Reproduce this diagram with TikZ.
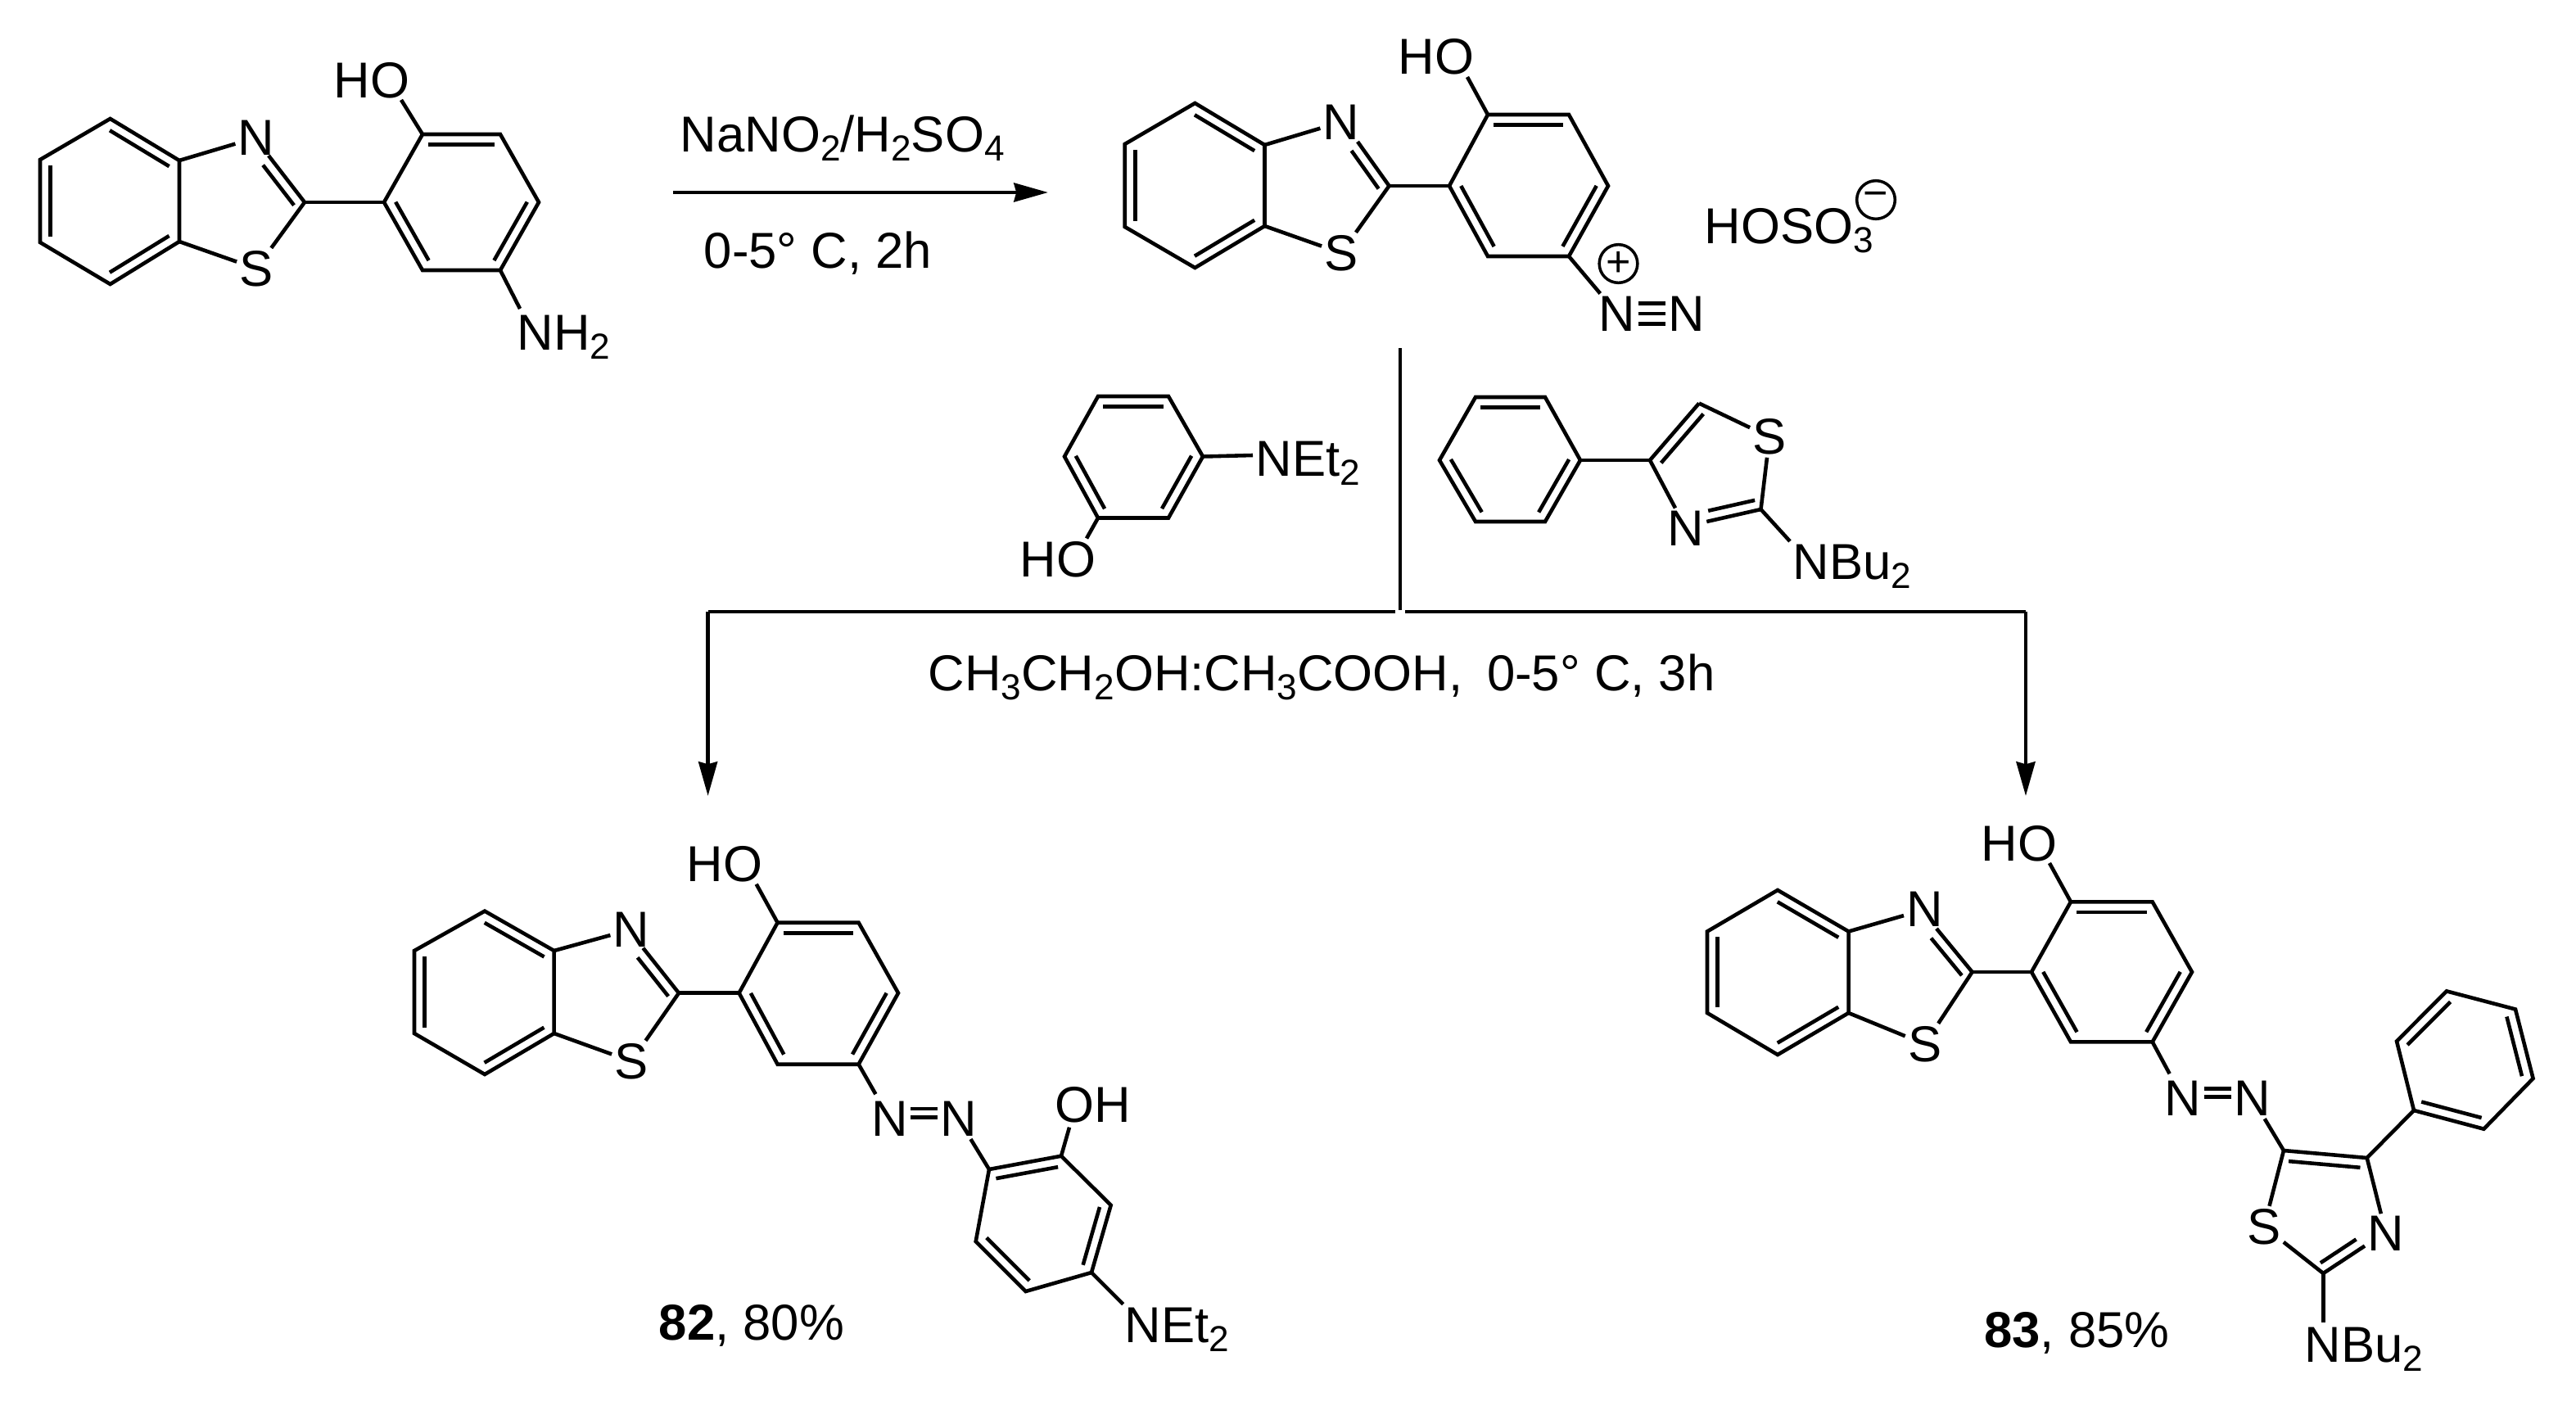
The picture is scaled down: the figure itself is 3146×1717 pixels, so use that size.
\documentclass[tikz,border=0pt]{standalone}
\usepackage{fontspec}
\setmainfont{Liberation Sans}
\usetikzlibrary{calc}
\usetikzlibrary{arrows.meta}
\newcommand{\low}[1]{\raisebox{-2.8pt}{\fontsize{10.6}{12}\selectfont #1}}
\newcommand{\dbl}[2]{\draw[bond] ($(#1)!0.07!(#2)!3pt!-90:(#2)$) -- ($(#2)!0.07!(#1)!3pt!90:(#1)$);}

\begin{document}
\begin{tikzpicture}[x=0.24pt,y=-0.24pt]
	\tikzstyle{atom}=[inner sep=0.6pt,font=\fontsize{14.8}{17}\selectfont]
	\tikzstyle{lab}=[anchor=base west,inner sep=0pt,font=\fontsize{14.8}{17}\selectfont]
	\tikzstyle{bond}=[draw=black,line width=1.1pt]
	\tikzstyle{rxn}=[draw=black,line width=1.1pt,-{Stealth[length=10pt,width=5.5pt,inset=0.7pt]}]
	\tikzstyle{charge}=[circle,draw=black,line width=0.85pt,inner sep=0pt,minimum size=11.2pt,font=\fontsize{12.5}{12.5}\selectfont]

	\useasboundingbox (0,0) rectangle (3146,1717);

	% ring atoms and free bond ends
	\foreach \n/\x/\y in {A1/134.6/145,A2/219/196,A3/219/295,A4/134.6/347,A5/49/296,A6/49/195,A7/372/247,
		A8/469/247,A9/516/164,A10/611/164,A11/658/247,A12/611/330,A13/516/330,An/328/190,Ae/490/122,Af/635/377,
		B1/1459.4/126,B2/1544.5/177,B3/1544.5/276,B4/1459.4/327,B5/1373.7/277,B6/1373.7/176,B7/1696.5/227,
		B8/1770/227,B9/1817/140,B10/1916/140,B11/1964/227,B12/1916/313,B13/1817/313,Bn/1658/173,Be/1792/94,
		C1/592/1112.6,C2/676.7/1161,C3/676.7/1262,C4/592/1312,C5/506/1262,C6/506/1161,C7/829/1212.7,
		C8/902.6/1212.7,C9/949.6/1126.7,C10/1048.6/1126.7,C11/1097/1212.7,C12/1048.6/1299.7,C13/949.6/1299.7,Cn/785.4/1157.7,Ce/923.7/1079.7,
		D1/2171/1087,D2/2257.6/1137.5,D3/2257.6/1237,D4/2171/1288,D5/2085/1237,D6/2085/1137.5,D7/2408.6/1187,
		D8/2481/1187,D9/2529/1101.3,D10/2628.7/1101.3,D11/2677/1187,D12/2628.7/1272.4,D13/2529/1272.4,Dn/2365/1134,De/2503/1054,
		E1/1341/484,E2/1427/484,E3/1469/557.5,E4/1427/632.5,E5/1341/632.5,E6/1300/557.5,Ea/1530/556,Eb/1327/657.5,
		F1/1802/485,F2/1887/485,F3/1930/562,F4/1887/637,F5/1802/637,F6/1758/562,
		T1/2015/562,T2/2075/492.5,T3/2150.5/622,Tn/2084.3/637,Ta/2186/661,
		G1/1208/1428,G2/1296/1411.7,G3/1356.7/1471.7,G4/1333/1554,G5/1252.7/1577,G6/1191.7/1516,Ga/1306/1376.7,Gb/1371.7/1592.7,
		H1/2789/1405,H2/2890.7/1414,H3/2837.3/1555,Hn/2888/1521.5,Ha/2837.3/1615,
		P1/2948/1356,P2/2927/1271.5,P3/2988/1210.4,P4/3072/1232.5,P5/3093.6/1317,P6/3033.4/1378.7}
		{\coordinate (\n) at (\x,\y);}

	% atom labels
	\foreach \n/\t/\x/\y in {AN/N/313/168,AS/S/313/328,AO/HO/454/98,
		BN/N/1638/149,BS/S/1638/309,BO/HO/1754/69,BP/N/1975/383,BQ/N/2060/383,
		CN/N/771/1135,CS/S/771/1296,CO/HO/885/1055,CP/N/1086.7/1366.5,CQ/N/1170.5/1366.5,CH/OH/1334.3/1349,
		DN/N/2350.6/1110.7,DS/S/2350.6/1275,DO/HO/2466/1030,DP/N/2666/1341.7,DQ/N/2751/1341.7,
		EO/HO/1292/683,TS/S/2161/533.6,TN/N/2059/645,HS/S/2765/1498,HN/N/2914/1506.7}
		{\node [atom] (\n) at (\x,\y) {\t};}

	\node [lab] (nh2) at (631,427) {NH\low{2}};
	\node [lab] (hso4) at (2081,297) {HOSO\low{3}};
	\node [lab] (net2a) at (1533,581) {NEt\low{2}};
	\node [lab] (nbu2a) at (2189,707) {NBu\low{2}};
	\node [lab] (net2b) at (1373,1639) {NEt\low{2}};
	\node [lab] (nbu2b) at (2814,1663) {NBu\low{2}};
	\node [lab] (cond1) at (830,185) {NaNO\low{2}/H\low{2}SO\low{4}};
	\node [lab] (cond2) at (859,327) {0-5° C, 2h};
	\node [lab] (cond3) at (1133,843) {CH\low{3}CH\low{2}OH:CH\low{3}COOH,\hspace{3pt} 0-5° C, 3h};
	\node [lab] (yield82) at (804,1636) {\textbf{82}, 80\%};
	\node [lab] (yield83) at (2422.5,1645) {\textbf{83}, 85\%};
	\node [charge] (plus) at (1976.5,322) {+};
	\node [charge] (minus) at (2291,244) {−};

	% the four benzothiazole phenols
	\foreach \m in {A,B,C,D} {
		\draw[bond] (\m1) -- (\m2) -- (\m3) -- (\m4) -- (\m5) -- (\m6) -- cycle;
		\draw[bond] (\m8) -- (\m9) -- (\m10) -- (\m11) -- (\m12) -- (\m13) -- cycle;
		\path[bond] (\m2) -- (\m N);
		\path[bond] (\m3) -- (\m S);
		\path[bond] (\m S) -- (\m7);
		\path[bond] (\m7) -- (\m n);
		\path[bond] (\m7) -- (\m8);
		\path[bond] (\m9) -- (\m e);
		\foreach \a/\b in {1/2,3/4,5/6,9/10,11/12,13/8,n/7}
			{\dbl{\m\a}{\m\b}}
	}

	% other rings
	\draw[bond] (E1) -- (E2) -- (E3) -- (E4) -- (E5) -- (E6) -- cycle;
	\draw[bond] (F1) -- (F2) -- (F3) -- (F4) -- (F5) -- (F6) -- cycle;
	\draw[bond] (G1) -- (G2) -- (G3) -- (G4) -- (G5) -- (G6) -- cycle;
	\draw[bond] (P1) -- (P2) -- (P3) -- (P4) -- (P5) -- (P6) -- cycle;
	\foreach \a/\b in {E1/E2,E3/E4,E5/E6,F1/F2,F3/F4,F5/F6,G1/G2,G3/G4,G5/G6,P2/P3,P4/P5,P6/P1,T1/T2,T3/Tn,H1/H2,Hn/H3}
		{\dbl{\a}{\b}}

	% single bonds
	\path[bond] (A12) -- (Af);
	\path[bond] (B12) -- (BP);
	\path[bond,shorten >=1.6pt] (C12) -- (CP);
	\path[bond,shorten >=1.6pt] (D12) -- (DP);
	\path[bond] (CQ) -- (G1);
	\path[bond] (DQ) -- (H1);
	\path[bond] (G2) -- (Ga);
	\path[bond] (G4) -- (Gb);
	\path[bond] (E3) -- (Ea);
	\path[bond] (E5) -- (Eb);
	\path[bond] (F3) -- (T1);
	\path[bond] (T1) -- (T2);
	\path[bond] (T1) -- (TN);
	\path[bond] (T2) -- (TS);
	\path[bond] (TS) -- (T3);
	\path[bond] (T3) -- (Tn);
	\path[bond] (T3) -- (Ta);
	\path[bond] (H1) -- (H2);
	\path[bond] (H1) -- (HS);
	\path[bond] (HS) -- (H3);
	\path[bond] (H2) -- (HN);
	\path[bond] (H3) -- (Hn);
	\path[bond] (H3) -- (Ha);
	\path[bond] (H2) -- (P1);

	% azo and diazonium
	\foreach \s in {3pt,0.5pt} {
		\path[bond] ([yshift=\s]CP.east) -- ([yshift=\s]CQ.west);
		\path[bond] ([yshift=\s]DP.east) -- ([yshift=\s]DQ.west);
	}
	\foreach \s in {-3pt,0pt,3pt}
		{\path[bond] ([yshift=\s]BP.east) -- ([yshift=\s]BQ.west);}

	% reaction arrows
	\coordinate (r1) at (822,235);
	\coordinate (r2) at (1280,235);
	\coordinate (v1) at (1710,425);
	\coordinate (v2) at (1710,745);
	\coordinate (h1) at (864.6,747);
	\coordinate (h2) at (1704,747);
	\coordinate (h3) at (1716,747);
	\coordinate (h4) at (2474,747);
	\coordinate (t1) at (864.6,972);
	\coordinate (t2) at (2474,972);
	\path[rxn] (r1) -- (r2);
	\path[bond] (v1) -- (v2);
	\path[bond] (h2) -- (h1);
	\path[bond] (h3) -- (h4);
	\path[rxn] (h1) -- (t1);
	\path[rxn] (h4) -- (t2);
\end{tikzpicture}
\end{document}
